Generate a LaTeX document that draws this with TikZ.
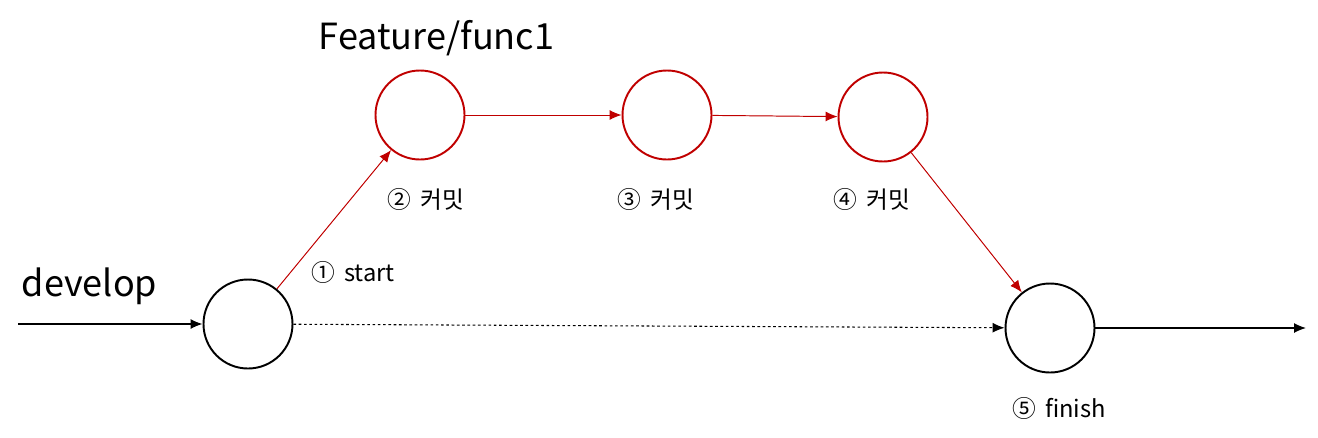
\documentclass[tikz,border=0pt]{standalone}
\usepackage{fontspec}
\setmainfont{Noto Sans CJK KR}
\usetikzlibrary{arrows.meta}
\tikzset{
  commit/.style={circle,draw,line width=1.1pt,minimum size=1.78cm,inner sep=0pt},
  featcommit/.style={commit,draw={rgb,255:red,192;green,0;blue,0}},
  flow/.style={-{Latex[length=0.24cm,width=0.2cm]},line width=0.7pt},
  featflow/.style={flow,line width=0.55pt,draw={rgb,255:red,192;green,0;blue,0},fill={rgb,255:red,192;green,0;blue,0}},
  lbl/.style={font=\fontsize{13.5}{16}\selectfont}
}
\begin{document}
\begin{tikzpicture}
\useasboundingbox (0,0) rectangle (26.36,-8.74);
\node[commit](D1) at (4.96,-6.48) {};
\node[featcommit](F1) at (8.40,-2.30) {};
\node[featcommit](F2) at (13.34,-2.30) {};
\node[featcommit](F3) at (17.66,-2.34) {};
\node[commit](D2) at (21.00,-6.56) {};
\coordinate(S) at (0.36,-6.48);
\coordinate(E) at (26.12,-6.56);
\node[font=\fontsize{20.5}{24}\selectfont](dev) at (1.79,-5.72) {develop};
\node[font=\fontsize{20.5}{24}\selectfont](feat) at (8.73,-0.76) {Feature/func1};
\node[lbl](l1) at (7.06,-5.44) {①\hspace{0.4em}start};
\node[lbl](l2) at (8.52,-3.98) {②\hspace{0.4em}커밋};
\node[lbl](l3) at (13.12,-3.98) {③\hspace{0.4em}커밋};
\node[lbl](l4) at (17.44,-3.98) {④\hspace{0.4em}커밋};
\node[lbl](l5) at (21.18,-8.16) {⑤\hspace{0.4em}finish};
\draw[flow](S)--(D1);
\draw[featflow](D1)--(F1);
\draw[featflow](F1)--(F2);
\draw[featflow](F2)--(F3);
\draw[featflow](F3)--(D2);
\draw[flow,line width=0.6pt,dash pattern=on 1.5pt off 1.5pt](D1)--(D2);
\draw[flow](D2)--(E);
\end{tikzpicture}
\end{document}
